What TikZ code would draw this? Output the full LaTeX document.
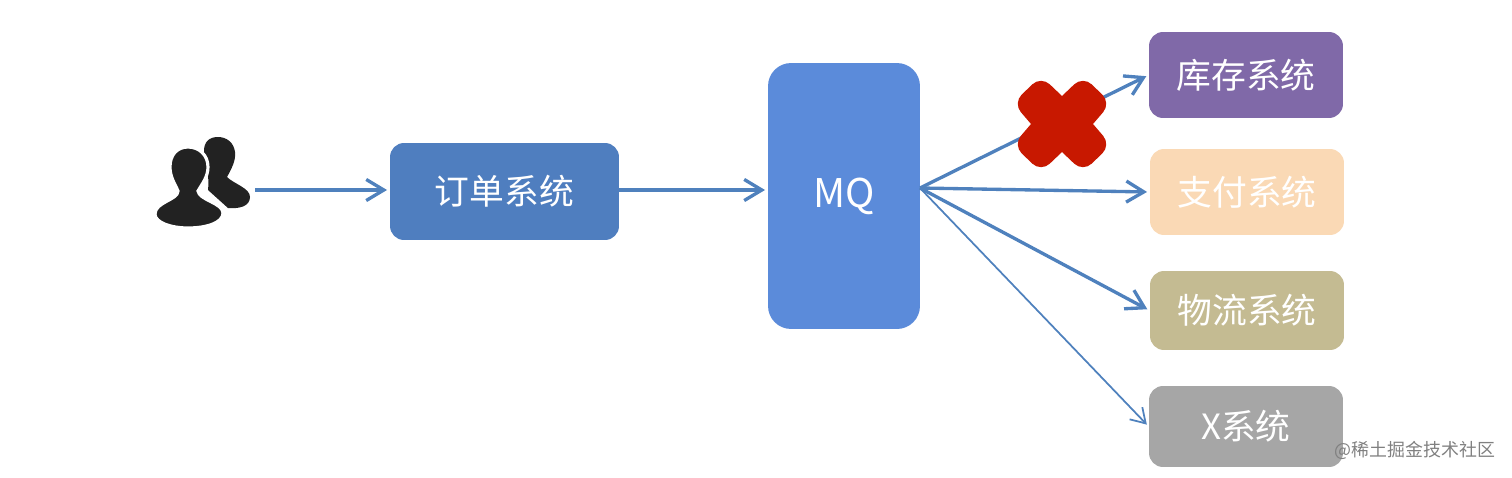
\documentclass[tikz,border=0pt]{standalone}
\usepackage{fontspec}
\setmainfont{Noto Sans CJK SC}
\usepackage{xcolor}
\usetikzlibrary{arrows.meta,positioning}
\definecolor{linkblue}{HTML}{4F81BD}
\definecolor{orderblue}{HTML}{4F7EBF}
\definecolor{mqblue}{HTML}{5B8BDA}
\definecolor{stockpurple}{HTML}{8069A8}
\definecolor{paypeach}{HTML}{FAD9B5}
\definecolor{shipkhaki}{HTML}{C4BB92}
\definecolor{xgray}{HTML}{A6A6A6}
\definecolor{crossred}{HTML}{C81800}
\definecolor{iconblack}{HTML}{222222}
\tikzset{
    sysbox/.style={rounded corners=0.28cm,inner sep=0pt,text=white,font=\fontsize{19.8}{24}\selectfont},
    link/.style={->,>={Straight Barb[length=10pt,width=12pt,line width=1.9pt]},shorten >=1.5pt,draw=linkblue,line width=1.9pt},
    thinlink/.style={link,>={Straight Barb[length=8pt,width=10pt,line width=1pt]},line width=1pt}
}

\begin{document}
\begin{tikzpicture}[x=0.02cm,y=-0.02cm]
    \useasboundingbox (0,0) rectangle (1512,477);
    % the two people
    \fill[iconblack] (218,137) .. controls (209,137) and (204,142) .. (204,151) .. controls (204,165) and (210,172) .. (208,190) -- (228,208) .. controls (240,209) and (250,206) .. (250,197) .. controls (250,188) and (234,184) .. (227,177) .. controls (232,168) and (236,160) .. (235,152) .. controls (234,143) and (227,137) .. (218,137) -- cycle;
    \fill[iconblack,draw=white,line width=1.8pt] (188,147) .. controls (177,147) and (170,155) .. (170,167) .. controls (170,177) and (175,184) .. (178,191) .. controls (178,200) and (155,202) .. (155,214) .. controls (155,223) and (172,228) .. (188,228) .. controls (206,228) and (223,223) .. (223,213) .. controls (223,203) and (199,200) .. (198,191) .. controls (202,184) and (208,177) .. (208,167) .. controls (208,155) and (199,147) .. (188,147) -- cycle;
    \coordinate (users) at (255,190);
    % boxes
    \node[sysbox,fill=orderblue,minimum width=4.58cm,minimum height=1.94cm] (order) at (504.5,191.5) {订单系统};
    \node[sysbox,fill=mqblue,rounded corners=0.46cm,minimum width=3.04cm,minimum height=5.32cm,font=\fontsize{22.5}{26}\selectfont] (mq) at (844,196) {\raisebox{-1.5pt}{MQ}};
    \node[sysbox,fill=stockpurple,minimum width=3.88cm,minimum height=1.72cm] (stock) at (1246,75) {库存系统};
    \node[sysbox,fill=paypeach,minimum width=3.88cm,minimum height=1.72cm] (pay) at (1247,192) {支付系统};
    \node[sysbox,fill=shipkhaki,minimum width=3.88cm,minimum height=1.58cm] (ship) at (1247,310.5) {物流系统};
    \node[sysbox,fill=xgray,minimum width=3.88cm,minimum height=1.62cm] (xsys) at (1246,426.5) {X系统};
    % connectors
    \coordinate (hub) at (920,188);
    \draw[link] (users) -- (users -| order.west);
    \draw[link] (order.east |- users) -- (users -| mq.west);
    \draw[link] (hub) -- (stock.west);
    \draw[link] (hub) -- (pay.west);
    \draw[link] (hub) -- (ship.west);
    \draw[thinlink] (hub) -- (xsys.west);
    % cross on the first link
    \fill[crossred,shift={(1062,124)}] (0,-28) [rounded corners=0.24cm] -- (21,-48) -- (49,-21) [sharp corners] -- (31,0) [rounded corners=0.24cm] -- (49,21) -- (21,48) [sharp corners] -- (0,28) [rounded corners=0.24cm] -- (-21,48) -- (-49,21) [sharp corners] -- (-31,0) [rounded corners=0.24cm] -- (-49,-21) -- (-21,-48) [sharp corners] -- cycle;
    % site mark
    \node[inner sep=0pt,text=black!50,font=\fontsize{10.2}{12}\selectfont] (mark) at (1415,450.5) {@稀土掘金技术社区};
\end{tikzpicture}
\end{document}
